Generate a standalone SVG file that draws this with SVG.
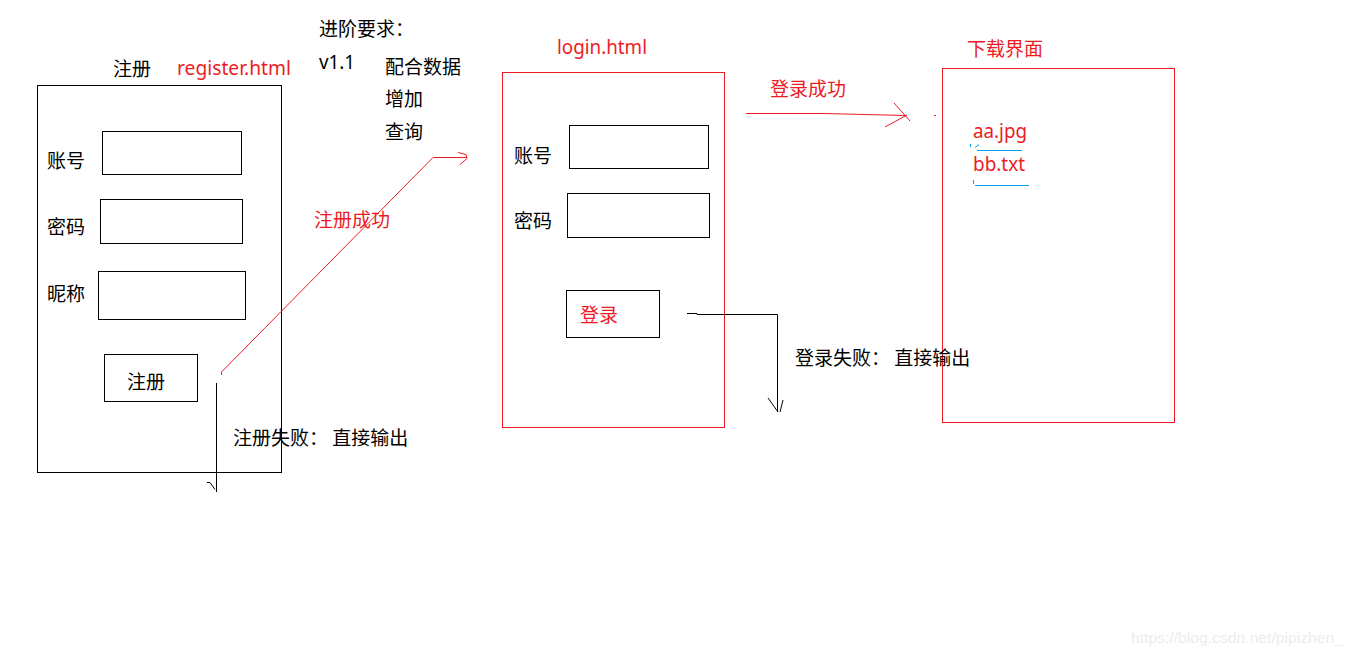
<svg xmlns="http://www.w3.org/2000/svg" width="1354" height="657" viewBox="0 0 1354 657">
<style>
text{font-family:"Noto Sans CJK SC","Noto Sans",sans-serif;font-size:19px;fill:#000}
.r{fill:#ed1c24}
.lat{font-family:"Noto Sans","Noto Sans CJK SC",sans-serif;font-size:19.5px}
.box{fill:none;stroke:#000;stroke-width:1}
.rbox{fill:none;stroke:#ed1c24;stroke-width:1}
.ln{fill:none;stroke:#000;stroke-width:1}
.rln{fill:none;stroke:#ed1c24;stroke-width:1}
.bln{fill:none;stroke:#00a2e8;stroke-width:1}
.wm{font-family:"Liberation Sans",sans-serif;font-size:15px;fill:#ededed}
</style>
<rect width="1354" height="657" fill="#fff"/>

<g id="notes">
<text x="319" y="36">进阶要求：</text>
<text x="319" y="69" class="lat" textLength="36" lengthAdjust="spacingAndGlyphs">v1.1</text>
<text x="385" y="74">配合数据</text>
<text x="385" y="106">增加</text>
<text x="385" y="139">查询</text>
</g>

<g id="register">
<text x="113" y="76">注册</text>
<text x="177" y="75" class="lat r" textLength="114" lengthAdjust="spacingAndGlyphs">register.html</text>
<rect class="box" x="37.5" y="85.5" width="244" height="387"/>
<text x="47" y="168">账号</text>
<rect class="box" x="102.5" y="131.5" width="139" height="43"/>
<text x="47" y="234">密码</text>
<rect class="box" x="100.5" y="199.5" width="142" height="44"/>
<text x="47" y="301">昵称</text>
<rect class="box" x="98.5" y="271.5" width="147" height="48"/>
<rect class="box" x="104.5" y="354.5" width="93" height="47"/>
<text x="127" y="389">注册</text>
</g>

<g id="login">
<text x="557" y="54" class="lat r" textLength="90" lengthAdjust="spacingAndGlyphs">login.html</text>
<rect class="rbox" x="502.5" y="72.5" width="222" height="355"/>
<text x="514" y="163">账号</text>
<rect class="box" x="569.5" y="125.5" width="139" height="43"/>
<text x="514" y="228">密码</text>
<rect class="box" x="567.5" y="193.5" width="142" height="44"/>
<rect class="box" x="566.5" y="290.5" width="93" height="47"/>
<text x="580" y="322" class="r">登录</text>
</g>

<g id="download">
<text x="967" y="56" class="r">下载界面</text>
<rect class="rbox" x="942.5" y="68.5" width="232" height="354"/>
<text x="973" y="138" class="lat r" textLength="54" lengthAdjust="spacingAndGlyphs">aa.jpg</text>
<text x="973" y="171" class="lat r" textLength="52" lengthAdjust="spacingAndGlyphs">bb.txt</text>
<path class="bln" d="M977 150.5H1022M970.5 144v3M975 147.5l4-3M975 185.5H1029M973.5 180v4"/>
</g>

<g id="connectors">
<path class="rln" d="M221.5 375V372L433 157.5H467M458 152.5l8 2 1 4-7 6"/>
<text x="314" y="227" class="r">注册成功</text>
<path class="ln" d="M216.5 383V492M207 482.5h3l5 7"/>
<text x="233" y="445">注册失败： 直接输出</text>

<path class="rln" d="M746 113.5H824L906 115.5M894 103l16 18M885 127l22-12M934 115.5h2"/>
<text x="770" y="96" class="r">登录成功</text>

<path class="ln" d="M687 313.5H697V314.5H777.5V412M768 398l10 14M783 400l-3 12"/>
<text x="795" y="365">登录失败： 直接输出</text>
</g>

<text x="1131" y="643" class="wm" textLength="212" lengthAdjust="spacingAndGlyphs">https://blog.csdn.net/pipizhen_</text>
</svg>
